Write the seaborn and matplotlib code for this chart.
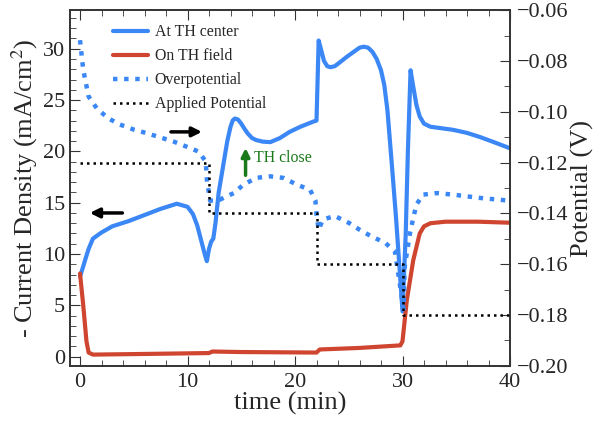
import numpy as np
import pandas as pd
import seaborn as sns
import matplotlib.pyplot as plt
from matplotlib.ticker import MultipleLocator

# Data
t_center = [0, 0.3, 0.5, 0.8, 1.2, 2, 3, 4.5, 6, 7.5, 9, 10.0, 10.5, 10.9, 11.3, 11.6, 11.8,
            12.0, 12.2, 12.4, 12.6, 12.9, 13.3, 13.7, 14.0, 14.2, 14.4, 14.7, 15.0, 15.3,
            15.6, 16.0, 16.4, 17.0, 17.7, 18.6, 19.5, 20.5, 21.7, 22.0, 22.2, 22.4, 22.7,
            23.0, 23.3, 23.7, 24.2, 24.8, 25.6, 26.0, 26.4, 26.8, 27.2, 27.6, 28.0, 28.3,
            28.6, 28.8, 29.1, 29.4, 29.7, 30.0, 30.3, 30.5, 30.75, 31.0, 31.3, 31.6, 32.0,
            32.6, 34.7, 36, 37.2, 38.5, 40]
j_center = [7.8, 8.8, 9.5, 10.5, 11.5, 12.1, 12.7, 13.2, 13.8, 14.4, 14.9, 14.6, 13.9, 12.8,
            11.2, 10.0, 9.3, 10.5, 11.2, 11.5, 13.0, 16.0, 18.5, 21.0, 22.4, 23.0, 23.2, 23.1,
            22.7, 22.2, 21.75, 21.3, 21.1, 20.95, 20.9, 21.3, 21.9, 22.4, 22.9, 23.0, 30.8,
            30.0, 28.8, 28.3, 28.2, 28.3, 28.7, 29.2, 29.8, 30.1, 30.2, 30.1, 29.7, 29.0, 27.9,
            26.5, 24.0, 21.4, 17.5, 13.5, 9.0, 4.4, 12.0, 20.0, 27.9, 26.3, 24.5, 23.4, 22.7,
            22.4, 22.1, 21.8, 21.4, 20.9, 20.3]

t_field = [0, 0.3, 0.6, 0.8, 1.2, 5, 12.0, 12.3, 15, 22.0, 22.3, 26, 29.8, 30.0, 30.4,
           31.0, 31.6, 32.0, 32.6, 34, 37, 40]
j_field = [8.1, 5.0, 1.5, 0.4, 0.2, 0.25, 0.35, 0.5, 0.45, 0.4, 0.7, 0.85, 1.1, 1.5, 5.5,
           9.4, 12.0, 12.7, 13.0, 13.15, 13.15, 13.05]

t_over = [0, 0.3, 0.8, 1.55, 2.6, 3.7, 5.0, 6.2, 7.4, 8.7, 9.9, 11.0, 11.7, 11.8, 12.1,
          13.0, 14.3, 15.2, 16.4, 17.7, 18.9, 20.2, 21.4, 21.9, 22.0, 22.2, 22.6, 23.7,
          25.0, 26.0, 27.1, 28.4, 29.3, 30.1, 30.2, 30.7, 31.0, 31.3, 31.9, 33.2, 34.7,
          37.2, 40]
v_over = [-0.0718, -0.0835, -0.094, -0.0986, -0.1025, -0.105, -0.107, -0.1084, -0.110,
          -0.1117, -0.1137, -0.1156, -0.1195, -0.1267, -0.135, -0.1346, -0.132, -0.1287,
          -0.126, -0.1254, -0.126, -0.1287, -0.1307, -0.135, -0.1405, -0.1464, -0.1424,
          -0.141, -0.1437, -0.1464, -0.149, -0.1516, -0.155, -0.1777, -0.161, -0.1477,
          -0.1418, -0.1365, -0.1326, -0.132, -0.1326, -0.1339, -0.135]

t_applied = [0, 12, 12, 22, 22, 30, 30, 40]
v_applied = [-0.12, -0.12, -0.14, -0.14, -0.16, -0.16, -0.18, -0.18]

labels = ["At TH center", "On TH field", "Overpotential", "Applied Potential"]

blue = "#3a87f5"
red = "#cf452f"
green = "#1a7a1a"

sns.set_style("ticks")
plt.rcParams['font.family'] = ['Liberation Serif', 'DejaVu Serif']
plt.rcParams['mathtext.fontset'] = 'stix'

fig = plt.figure(figsize=(6, 4.23), dpi=100)
ax = fig.add_axes([0.1167, 0.135, 0.7333, 0.841])
ax2 = ax.twinx()

sns.lineplot(x=t_center, y=j_center, ax=ax, color=blue, lw=3, sort=False, estimator=None)
sns.lineplot(x=t_field, y=j_field, ax=ax, color=red, lw=3, sort=False, estimator=None)
sns.lineplot(x=t_over, y=v_over, ax=ax2, color=blue, lw=3.2, sort=False, estimator=None,
             linestyle=(0, (1, 1.5)))
sns.lineplot(x=t_applied, y=v_applied, ax=ax2, color="black", lw=1.8, sort=False,
             estimator=None, linestyle=(0, (1, 1.6)))

ax.set_xlim(-0.93, 40)
ax.set_ylim(-0.9, 33.76)
ax2.set_ylim(-0.2, -0.06)

ax.xaxis.set_major_locator(MultipleLocator(10))
ax.xaxis.set_minor_locator(MultipleLocator(2))
ax.yaxis.set_major_locator(MultipleLocator(5))
ax.yaxis.set_minor_locator(MultipleLocator(1))
ax2.yaxis.set_major_locator(MultipleLocator(0.02))
ax2.yaxis.set_minor_locator(MultipleLocator(0.01))
ax2.yaxis.set_major_formatter(plt.FuncFormatter(lambda v, p: f"{v:.2f}".replace("-", "\u2212")))

ax.tick_params(which='both', direction='in', top=True, right=False, labelsize=16, color='#333333')
ax.tick_params(axis='x', pad=5)
ax.tick_params(which='major', length=7)
ax.tick_params(which='minor', length=4)
ax2.tick_params(which='both', direction='in', labelsize=16, color='#333333', pad=5)
ax2.tick_params(which='major', length=7)
ax2.tick_params(which='minor', length=4)
for a in (ax, ax2):
    for s in a.spines.values():
        s.set_linewidth(1.2)
        s.set_color('#333333')

ax.set_xlabel("time (min)", fontsize=19, labelpad=0)
ax.set_ylabel(r"- Current Density (mA/cm$^2$)", fontsize=19, labelpad=2)
ax2.set_ylabel("Potential (V)", fontsize=19, labelpad=2)

# annotations
ax.annotate("", xy=(0.65, 14.0), xytext=(4.2, 14.0),
            arrowprops=dict(arrowstyle='-|>', color='black', lw=2.5, mutation_scale=14))
ax.annotate("", xy=(11.6, 21.9), xytext=(8.2, 21.9),
            arrowprops=dict(arrowstyle='-|>', color='black', lw=2.5, mutation_scale=14))
ax.annotate("", xy=(15.4, 20.6), xytext=(15.4, 17.4),
            arrowprops=dict(arrowstyle='-|>', color=green, lw=2.5, mutation_scale=12))
ax.text(16.2, 19.4, "TH close", color=green, fontsize=11.4, va='center')

handles = ax.get_lines()[:2] + ax2.get_lines()[:2]
for a in (ax, ax2):
    if a.get_legend() is not None:
        a.get_legend().remove()
ax2.legend(handles, labels, loc='upper left', bbox_to_anchor=(0.065, 1.0), frameon=False,
           fontsize=11.4, handlelength=2.2, handletextpad=0.45, labelspacing=0.5)

fig.savefig("out.png", dpi=100)
